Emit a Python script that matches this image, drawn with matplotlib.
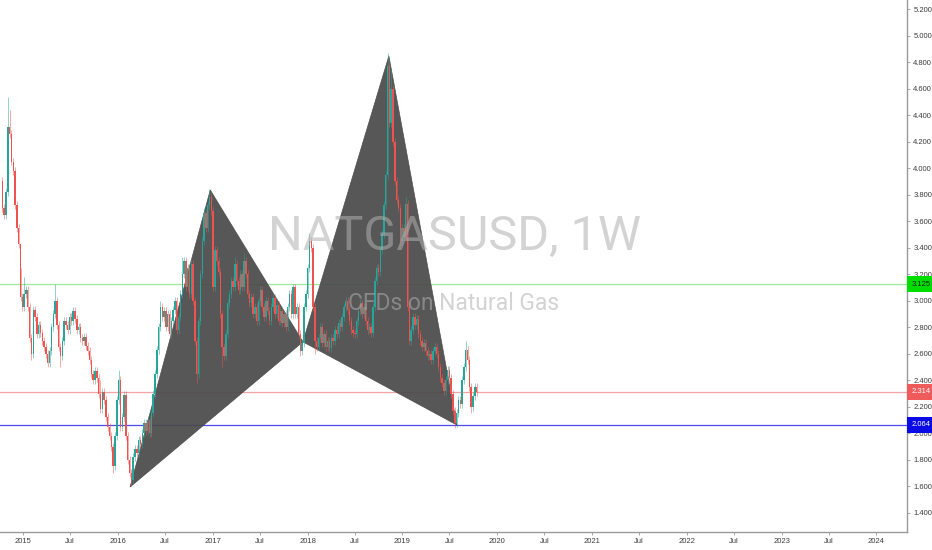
import numpy as np
import pandas as pd
import matplotlib
matplotlib.use("Agg")
import matplotlib.pyplot as plt
import matplotlib.dates as mdates
from matplotlib.patches import Polygon

# weekly closes, NATGASUSD (Oct 2014 .. Oct 2019)
closes = [
    3.70, 3.65, 3.82, 4.31, 4.26, 4.05, 3.98, 3.72, 3.55, 3.43,
    3.03, 2.95, 3.05, 3.08, 2.95, 2.72, 2.60, 2.93, 2.88, 2.75,
    2.82, 2.76, 2.70, 2.65, 2.60, 2.53, 2.62, 2.80, 2.90, 3.00,
    2.82, 2.65, 2.58, 2.70, 2.85, 2.82, 2.78, 2.88, 2.85, 2.92,
    2.86, 2.78, 2.80, 2.72, 2.70, 2.73, 2.66, 2.62, 2.55, 2.45,
    2.40, 2.47, 2.42, 2.30, 2.18, 2.31, 2.25, 2.12, 2.05, 1.98,
    1.90, 1.75, 1.98, 2.25, 2.40, 2.05, 2.12, 2.29, 1.98, 1.80,
    1.70, 1.65, 1.82, 1.88, 1.85, 1.95, 1.92, 2.00, 2.08, 2.02,
    2.10, 2.00, 2.15, 2.30, 2.45, 2.63, 2.80, 2.95, 2.88, 2.92,
    2.80, 2.90, 2.75, 2.85, 2.93, 3.00, 2.78, 2.88, 3.05, 3.20,
    3.30, 3.10, 3.25, 3.05, 3.28, 3.00, 2.70, 2.45, 2.85, 3.20,
    3.45, 3.66, 3.55, 3.72, 3.78, 3.68, 3.10, 3.38, 3.30, 3.22,
    2.90, 2.65, 2.58, 2.75, 2.98, 3.05, 3.15, 3.10, 3.28, 3.15,
    3.08, 3.20, 3.10, 3.30, 3.20, 3.05, 2.98, 3.03, 2.90, 2.95,
    2.85, 3.00, 3.08, 2.95, 2.88, 3.00, 2.92, 2.85, 2.95, 3.02,
    2.90, 2.97, 2.85, 2.92, 2.83, 2.90, 2.80, 2.95, 3.05, 2.90,
    3.10, 2.90, 2.95, 2.75, 2.62, 2.68, 2.95, 3.05, 3.25, 3.45,
    3.40, 2.95, 2.70, 2.65, 2.72, 2.80, 2.68, 2.75, 2.65, 2.70,
    2.64, 2.72, 2.70, 2.78, 2.75, 2.83, 2.80, 2.88, 2.95, 3.00,
    2.93, 2.85, 2.78, 2.76, 2.75, 2.85, 2.92, 2.98, 2.90, 2.95,
    2.85, 2.78, 2.80, 2.76, 2.95, 3.15, 3.25, 3.22, 3.38, 3.50,
    3.72, 3.95, 4.77, 4.34, 4.60, 4.20, 3.90, 3.76, 3.70, 3.45,
    3.55, 3.48, 3.73, 2.95, 2.70, 2.78, 2.88, 2.82, 2.86, 2.75,
    2.70, 2.65, 2.68, 2.62, 2.58, 2.60, 2.55, 2.62, 2.65, 2.60,
    2.50, 2.42, 2.38, 2.32, 2.40, 2.48, 2.42, 2.30, 2.17, 2.08,
    2.15, 2.25, 2.22, 2.40, 2.50, 2.63, 2.55, 2.35, 2.20, 2.28,
    2.35, 2.31,
]
first_open = 3.90
# notable wick extremes (week index -> price)
highs = {3: 4.54, 4: 4.44, 10: 3.25, 12: 3.18, 29: 3.13, 54: 2.40, 64: 2.48,
         87: 3.00, 99: 3.33, 111: 3.70, 114: 3.84, 128: 3.33, 133: 3.36,
         160: 3.13, 169: 3.51, 212: 4.87, 214: 4.74, 222: 3.78, 255: 2.70}
lows = {16: 2.55, 32: 2.50, 61: 1.70, 71: 1.60, 107: 2.38, 121: 2.50,
        164: 2.58, 172: 2.60, 249: 2.04, 258: 2.15}

# harmonic pattern pivots X, A, B, C, D
piv_dates = ["2016-02-17", "2016-12-22", "2017-12-14", "2018-11-10", "2019-07-30"]
piv_price = [1.595, 3.835, 2.69, 4.846, 2.063]

levels = [3.125, 2.314, 2.064]
level_line = ["#9be89b", "#f4a3a3", "#4b4bf0"]
level_box = ["#00dd00", "#ef5b5b", "#0a0ae6"]
level_txt = ["#1a1a1a", "white", "white"]

dates = pd.date_range("2014-10-13", periods=len(closes), freq="W-MON")
opens = [first_open] + closes[:-1]

fig = plt.figure(figsize=(9.32, 5.5), dpi=100)
ax = fig.add_axes([0, 18 / 550, 907 / 932, 532 / 550])
ax.set_facecolor("white")

up_c, dn_c = "#26a69a", "#ef5350"
xd = mdates.date2num(dates)
for i in range(len(closes)):
    o, c = opens[i], closes[i]
    col = up_c if c >= o else dn_c
    hi = highs.get(i, max(o, c) + 0.03)
    lo = lows.get(i, min(o, c) - 0.03)
    ax.vlines(xd[i], lo, hi, color=col, lw=0.7, alpha=0.5, zorder=3)
    ax.bar(xd[i], abs(c - o) if abs(c - o) > 0.005 else 0.005, bottom=min(o, c),
           width=5.5, color=col, lw=0, zorder=3)

pd_num = mdates.date2num(pd.to_datetime(piv_dates))
for tri in [(0, 1, 2), (2, 3, 4)]:
    pts = [(pd_num[k], piv_price[k]) for k in tri]
    ax.add_patch(Polygon(pts, closed=True, facecolor="#4a4a4a", edgecolor="#4a4a4a",
                         lw=0.5, alpha=0.93, zorder=2))

for lv, lc in zip(levels, level_line):
    ax.axhline(lv, color=lc, lw=0.9, zorder=1)

wm_font = ["Roboto", "DejaVu Sans"]
fig.text(455 / 932, 1 - 237 / 550, "NATGASUSD, 1W", ha="center", va="center",
         fontsize=35, family=wm_font, color="#b0b0b0", alpha=0.55, zorder=5)
fig.text(454 / 932, 1 - 303 / 550, "CFDs on Natural Gas", ha="center", va="center",
         fontsize=16.5, family=wm_font, color="#b0b0b0", alpha=0.55, zorder=5)

ax.set_xlim(pd.Timestamp("2014-10-04"), pd.Timestamp("2024-04-28"))
ax.set_ylim(1.256, 5.268)

years = list(range(2015, 2025))
xt, xl = [], []
for y in years:
    xt.append(pd.Timestamp(f"{y}-01-01"))
    xl.append(str(y))
    if y < 2024:
        xt.append(pd.Timestamp(f"{y}-07-01"))
        xl.append("Jul")
ax.set_xticks(mdates.date2num(xt))
ax.set_xticklabels(xl)

yt = np.arange(1.4, 5.21, 0.2)
ax.yaxis.tick_right()
ax.set_yticks(yt)
ax.set_yticklabels([f"{v:.3f}" for v in yt])

for s in ["top", "left"]:
    ax.spines[s].set_visible(False)
for s in ["right", "bottom"]:
    ax.spines[s].set_color("#9a9a9a")
    ax.spines[s].set_linewidth(1.0)
ax.tick_params(axis="both", colors="#9a9a9a", labelcolor="#3c3c3c", labelsize=5.5,
               length=2.5, width=0.6, pad=2)
for lab in ax.get_xticklabels() + ax.get_yticklabels():
    lab.set_family("Liberation Sans")

for lv, bc, tc in zip(levels, level_box, level_txt):
    ax.annotate(f"{lv:.3f}", xy=(1, lv), xycoords=("axes fraction", "data"),
                xytext=(3.2, 0), textcoords="offset points", ha="left", va="center",
                fontsize=5.5, family="Liberation Sans", color=tc, zorder=10,
                bbox=dict(boxstyle="square,pad=0.6", fc=bc, ec="none"),
                annotation_clip=False)

fig.savefig("out.png", dpi=100)
